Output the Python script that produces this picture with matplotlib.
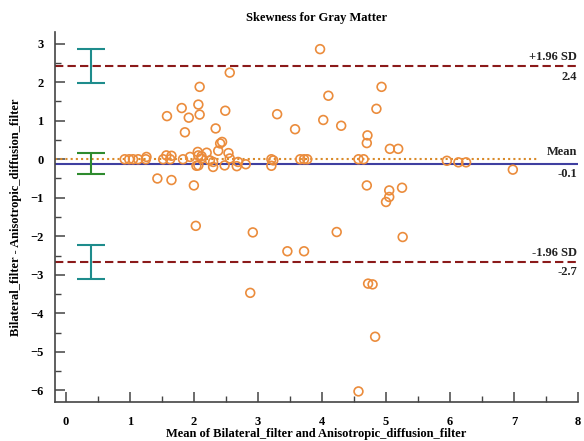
import matplotlib
matplotlib.use("Agg")
import matplotlib.pyplot as plt
from matplotlib.ticker import MultipleLocator

# Mean of the two methods (x) and their difference (y)
mean_vals = [
    3.97, 2.56, 2.09, 2.07, 1.81, 2.49, 1.58, 1.92, 2.09, 3.30,
    2.34, 1.86, 3.58, 2.44, 2.38, 2.06, 2.20, 2.54, 1.57, 1.65,
    1.94, 2.12, 0.92, 0.99, 1.05, 1.13, 1.25, 1.52, 1.63, 1.83,
    2.04, 2.30, 2.48, 2.67, 2.81, 3.21, 3.21, 3.66, 3.72, 3.77,
    1.43, 1.65, 2.00, 2.03, 2.92, 2.07, 2.25, 2.41, 2.56, 2.30,
    2.07, 2.69, 3.24, 4.57, 4.65, 4.70, 5.06, 5.19, 4.93, 4.10,
    4.85, 4.02, 4.30, 4.71, 5.95, 6.13, 6.25, 6.98, 4.70, 5.25,
    5.05, 5.05, 5.00, 4.23, 5.26, 3.72, 4.72, 4.79, 4.83, 4.57,
    3.46, 2.88, 1.26, 2.12,
]
diff_vals = [
    2.86, 2.25, 1.88, 1.42, 1.33, 1.26, 1.12, 1.08, 1.16, 1.17,
    0.80, 0.70, 0.78, 0.45, 0.22, 0.19, 0.17, 0.16, 0.10, 0.09,
    0.06, 0.08, 0.00, 0.00, 0.00, 0.00, 0.00, 0.00, 0.00, 0.00,
    -0.17, -0.20, -0.16, -0.18, -0.13, 0.00, -0.17, 0.00, 0.00, 0.00,
    -0.50, -0.54, -0.68, -1.73, -1.90, 0.10, -0.03, 0.41, 0.02, -0.07,
    -0.16, -0.07, -0.03, 0.00, 0.00, 0.42, 0.27, 0.27, 1.88, 1.65,
    1.31, 1.02, 0.87, 0.62, -0.04, -0.08, -0.08, -0.27, -0.68, -0.74,
    -0.81, -0.98, -1.11, -1.89, -2.02, -2.39, -3.23, -3.25, -4.61, -6.03,
    -2.39, -3.47, 0.06, 0.02,
]

mean_diff = -0.12
upper_loa = 2.42
lower_loa = -2.66
# confidence intervals (low, high)
ci_upper = (1.97, 2.87)
ci_mean = (-0.39, 0.15)
ci_lower = (-3.12, -2.22)
ci_x = 0.4

plt.rcParams["font.family"] = ["Liberation Serif", "DejaVu Serif"]
plt.rcParams["font.weight"] = "bold"

fig = plt.figure(figsize=(5.84, 4.41), dpi=100)
ax = fig.add_axes([0.094, 0.088, 0.896, 0.839])

orange = "#EB8C3C"
darkred = "#8B1A1A"
blue = "#3F3FA0"
teal = "#1E8C8C"
green = "#2E8B2E"

ax.set_xlim(-0.17, 8.0)
ax.set_ylim(-6.31, 3.30)

# zero line
ax.plot([-0.17, 7.35], [0, 0], color="#D98A2A", linestyle=(0, (1, 1.5)), lw=1.5, zorder=2)
# mean and limits of agreement
ax.axhline(mean_diff, color=blue, lw=1.5, zorder=2)
ax.axhline(upper_loa, color=darkred, lw=1.5, linestyle=(0, (4, 2)), zorder=2)
ax.axhline(lower_loa, color=darkred, lw=1.5, linestyle=(0, (4, 2)), zorder=2)

ax.scatter(mean_vals, diff_vals, s=40, facecolors="none", edgecolors=orange,
           linewidths=1.2, zorder=3)

# CI error bars
for (lo, hi), col in [(ci_upper, teal), (ci_mean, green), (ci_lower, teal)]:
    ax.errorbar([ci_x], [(lo + hi) / 2], yerr=[[(hi - lo) / 2], [(hi - lo) / 2]],
                fmt="none", ecolor=col, elinewidth=1.5, capsize=10, capthick=1.5,
                zorder=4)

# right hand labels
tkw = dict(ha="right", fontsize=9, fontweight="bold", color="#222222")
ax.text(7.98, upper_loa + 0.08, "+1.96 SD", va="bottom", **tkw)
ax.text(7.98, upper_loa - 0.12, f"{upper_loa:.1f}", va="top", **tkw)
ax.text(7.98, 0.02, "Mean", va="bottom", **tkw)
ax.text(7.98, mean_diff - 0.12, f"{mean_diff:.1f}", va="top", **tkw)
ax.text(7.98, lower_loa + 0.08, "-1.96 SD", va="bottom", **tkw)
ax.text(7.98, lower_loa - 0.12, f"{lower_loa:.1f}", va="top", **tkw)

ax.spines["top"].set_visible(False)
ax.spines["right"].set_visible(False)
for s in ("left", "bottom"):
    ax.spines[s].set_color("#444444")
    ax.spines[s].set_linewidth(1.2)

ax.xaxis.set_major_locator(MultipleLocator(1))
ax.xaxis.set_minor_locator(MultipleLocator(0.5))
ax.yaxis.set_major_locator(MultipleLocator(1))
ax.yaxis.set_minor_locator(MultipleLocator(0.5))
ax.tick_params(which="major", direction="in", length=7, width=1.1, color="#444444",
               labelsize=9)
ax.tick_params(which="minor", direction="in", length=4, width=1.0, color="#444444")
ax.tick_params(axis="x", pad=10)
ax.tick_params(axis="y", pad=8)
for lab in ax.get_xticklabels() + ax.get_yticklabels():
    lab.set_fontweight("bold")

ax.set_title("Skewness for Gray Matter", fontsize=9, fontweight="bold", pad=8)
ax.set_xlabel("Mean of Bilateral_filter and Anisotropic_diffusion_filter",
              fontsize=9, fontweight="bold", labelpad=0)
ax.set_ylabel("Bilateral_filter - Anisotropic_diffusion_filter",
              fontsize=9, fontweight="bold", labelpad=6)

fig.savefig("out.png", dpi=100)
